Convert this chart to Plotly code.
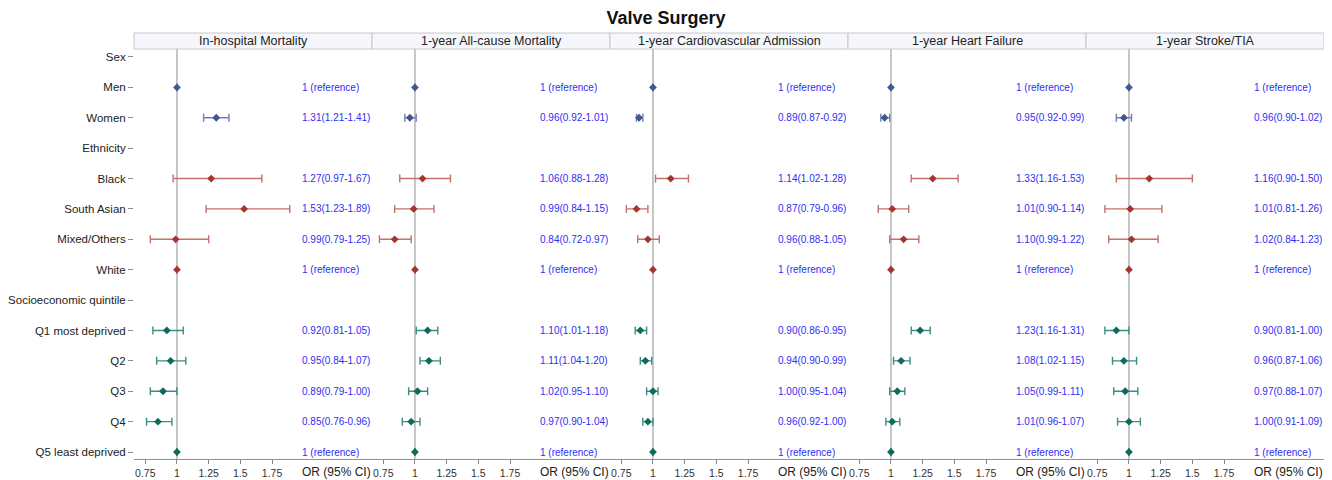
import plotly.graph_objects as go

# ---------------- data ----------------
row_labels = ["Sex", "Men", "Women", "Ethnicity", "Black", "South Asian", "Mixed/Others",
              "White", "Socioeconomic quintile", "Q1 most deprived", "Q2", "Q3", "Q4",
              "Q5 least deprived"]

panels = ["In-hospital Mortality", "1-year All-cause Mortality",
          "1-year Cardiovascular Admission", "1-year Heart Failure", "1-year Stroke/TIA"]

sex_rows = ["Men", "Women"]
eth_rows = ["Black", "South Asian", "Mixed/Others", "White"]
ses_rows = ["Q1 most deprived", "Q2", "Q3", "Q4", "Q5 least deprived"]

# odds ratios (None for CI of reference categories)
sex_or = [[1, 1.31], [1, 0.96], [1, 0.89], [1, 0.95], [1, 0.96]]
sex_lo = [[None, 1.21], [None, 0.92], [None, 0.87], [None, 0.92], [None, 0.90]]
sex_hi = [[None, 1.41], [None, 1.01], [None, 0.92], [None, 0.99], [None, 1.02]]

eth_or = [[1.27, 1.53, 0.99, 1], [1.06, 0.99, 0.84, 1], [1.14, 0.87, 0.96, 1],
          [1.33, 1.01, 1.10, 1], [1.16, 1.01, 1.02, 1]]
eth_lo = [[0.97, 1.23, 0.79, None], [0.88, 0.84, 0.72, None], [1.02, 0.79, 0.88, None],
          [1.16, 0.90, 0.99, None], [0.90, 0.81, 0.84, None]]
eth_hi = [[1.67, 1.89, 1.25, None], [1.28, 1.15, 0.97, None], [1.28, 0.96, 1.05, None],
          [1.53, 1.14, 1.22, None], [1.50, 1.26, 1.23, None]]

ses_or = [[0.92, 0.95, 0.89, 0.85, 1], [1.10, 1.11, 1.02, 0.97, 1], [0.90, 0.94, 1.00, 0.96, 1],
          [1.23, 1.08, 1.05, 1.01, 1], [0.90, 0.96, 0.97, 1.00, 1]]
ses_lo = [[0.81, 0.84, 0.79, 0.76, None], [1.01, 1.04, 0.95, 0.90, None],
          [0.86, 0.90, 0.95, 0.92, None], [1.16, 1.02, 0.99, 0.96, None],
          [0.81, 0.87, 0.88, 0.91, None]]
ses_hi = [[1.05, 1.07, 1.00, 0.96, None], [1.18, 1.20, 1.10, 1.04, None],
          [0.95, 0.99, 1.04, 1.00, None], [1.31, 1.15, 1.11, 1.07, None],
          [1.00, 1.06, 1.07, 1.09, None]]

x_tickvals = [0.75, 1, 1.25, 1.5, 1.75]
x_ticktext = ["0.75", "1", "1.25", "1.5", "1.75"]

# ---------------- styling ----------------
FONT = "Liberation Sans, Arial, sans-serif"
groups = [
    (sex_rows, sex_or, sex_lo, sex_hi, "#42568f", "#6f80b5"),
    (eth_rows, eth_or, eth_lo, eth_hi, "#a3352e", "#c4716b"),
    (ses_rows, ses_or, ses_lo, ses_hi, "#0e6b5c", "#3f8c80"),
]
TEXT_X = 1.97
X_RANGE = [0.661, 2.539]
# page body has an 8px margin, so the figure is sized to fit the window
W, H = 1324, 472
ML, MR, MT, MB = 126, 8, 41, 21
PH = H - MT - MB
npan = len(panels)
pw = 1 / npan

ypos = {lab: i for i, lab in enumerate(row_labels)}

fig = go.Figure()
annotations = []
shapes = []

for p in range(npan):
    xa = "x" if p == 0 else f"x{p+1}"
    for rows, ors, los, his, mcol, ecol in groups:
        o = ors[p]
        lo = los[p]
        hi = his[p]
        plus = [(h - v) if h is not None else 0 for v, h in zip(o, hi)]
        minus = [(v - l) if l is not None else 0 for v, l in zip(o, lo)]
        fig.add_trace(go.Scatter(
            x=o, y=[ypos[r] for r in rows], xaxis=xa, yaxis="y",
            mode="markers",
            marker=dict(symbol="diamond", size=6, color=mcol),
            error_x=dict(type="data", symmetric=False, array=plus, arrayminus=minus,
                         color=ecol, thickness=1.4, width=4),
            showlegend=False, hoverinfo="x+y",
        ))
        for r, v, l, h in zip(rows, o, lo, hi):
            txt = "1 (reference)" if l is None else f"{v:.2f}({l:.2f}-{h:.2f})"
            annotations.append(dict(x=TEXT_X, y=ypos[r], xref=xa, yref="y", text=txt,
                                    showarrow=False, xanchor="left", yanchor="middle",
                                    font=dict(family=FONT, size=10, color="#2e2ef5")))
    # reference line at OR = 1
    shapes.append(dict(type="line", xref=xa, yref="paper", x0=1, x1=1, y0=0, y1=1,
                       line=dict(color="#b4b4b4", width=1.5), layer="below"))
    # header strip
    d0, d1 = p * pw, (p + 1) * pw
    shapes.append(dict(type="rect", xref="paper", yref="paper", x0=d0, x1=d1,
                       y0=1.0, y1=1 + 16 / PH,
                       fillcolor="#f5f7fd", line=dict(color="#c8c8c8", width=1)))
    annotations.append(dict(x=(d0 + d1) / 2, y=1 + 8 / PH, xref="paper",
                            yref="paper", text=panels[p], showarrow=False,
                            xanchor="center", yanchor="middle",
                            font=dict(family=FONT, size=12.5, color="#222222")))
    annotations.append(dict(x=TEXT_X, y=-13 / PH, xref=xa, yref="paper",
                            text="OR (95% CI)", showarrow=False, xanchor="left",
                            yanchor="middle", font=dict(family=FONT, size=12, color="#222222")))
    axis = dict(domain=[d0, d1], range=X_RANGE, anchor="y", automargin=False,
                tickmode="array", tickvals=x_tickvals, ticktext=x_ticktext,
                ticks="outside", ticklen=4, tickcolor="#888888",
                tickfont=dict(family=FONT, size=10.5, color="#333333"),
                showgrid=False, zeroline=False,
                showline=True, mirror=True, linecolor="#929292", linewidth=1.3)
    fig.update_layout(**{("xaxis" if p == 0 else f"xaxis{p+1}"): axis})

nrows = len(row_labels)
fig.update_layout(
    width=W, height=H,
    margin=dict(l=ML, r=MR, t=MT, b=MB, autoexpand=False),
    paper_bgcolor="white", plot_bgcolor="white",
    yaxis=dict(range=[nrows - 1 + 0.23, -0.263], tickmode="array", automargin=False,
               tickvals=list(range(nrows)), ticktext=row_labels,
               ticks="outside", ticklen=5, tickcolor="#888888",
               tickfont=dict(family=FONT, size=11.5, color="#222222"),
               showgrid=False, zeroline=False, showline=False),
    title=dict(text="<b>Valve Surgery</b>", x=(666 - 8) / W, xref="container",
               xanchor="center", y=1 - 10 / H, yref="container", yanchor="middle",
               font=dict(family=FONT, size=18, color="#111111")),
    annotations=annotations, shapes=shapes,
)

fig.write_html("out.html")
